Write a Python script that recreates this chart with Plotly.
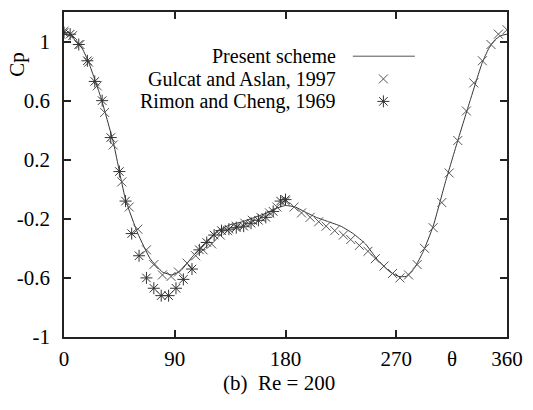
import plotly.graph_objects as go

# Present scheme (line)
scheme_theta = [0, 5, 10, 15, 20, 30, 40, 50, 60, 70, 80, 88, 95, 105, 115, 125, 135, 145, 155, 165, 172, 180,
                188, 195, 205, 215, 225, 235, 245, 255, 265, 272, 278, 285, 292, 300, 310, 320, 330, 340, 345, 350, 355, 360]
scheme_cp = [1.05, 1.04, 1.00, 0.95, 0.86, 0.62, 0.32, -0.07, -0.30, -0.47, -0.56, -0.58, -0.55, -0.45, -0.36, -0.28, -0.24, -0.22, -0.19, -0.16, -0.13, -0.11,
             -0.12, -0.15, -0.19, -0.22, -0.25, -0.30, -0.37, -0.48, -0.56, -0.59, -0.59, -0.53, -0.42, -0.25, 0.05, 0.33, 0.60, 0.86, 0.95, 1.01, 1.04, 1.05]

# Gulcat and Aslan, 1997 (crosses)
gulcat_theta = [0, 7, 13, 20, 27, 33, 40, 47, 53, 60, 67, 73, 80, 87, 93, 100, 107, 113, 120, 127, 133, 140, 147, 153, 160, 167, 173, 180,
                187, 193, 200, 207, 213, 220, 227, 233, 240, 247, 253, 260, 267, 273, 280, 287, 293, 300, 307, 313, 320, 327, 333, 340, 347, 353, 360]
gulcat_cp = [1.07, 1.04, 0.98, 0.86, 0.70, 0.52, 0.30, 0.05, -0.12, -0.27, -0.41, -0.51, -0.58, -0.59, -0.56, -0.50, -0.45, -0.41, -0.37, -0.31, -0.28, -0.25, -0.23, -0.21, -0.19, -0.16, -0.12, -0.08,
             -0.12, -0.16, -0.19, -0.22, -0.25, -0.28, -0.31, -0.34, -0.38, -0.42, -0.47, -0.52, -0.57, -0.60, -0.58, -0.51, -0.40, -0.26, -0.09, 0.11, 0.33, 0.53, 0.72, 0.87, 0.98, 1.05, 1.08]

# Rimon and Cheng, 1969 (asterisks)
rimon_theta = [0, 5, 12, 19, 25, 31, 38, 45, 50, 55, 61, 67, 73, 79, 85, 91, 97, 104, 110, 116, 122, 128, 134, 140, 146, 152, 158, 164, 170, 176, 180]
rimon_cp = [1.06, 1.05, 0.98, 0.87, 0.73, 0.60, 0.35, 0.12, -0.08, -0.30, -0.45, -0.60, -0.67, -0.72, -0.72, -0.67, -0.61, -0.54, -0.41, -0.36, -0.31, -0.28, -0.27, -0.26, -0.25, -0.23, -0.21, -0.19, -0.15, -0.08, -0.07]

x_ticks = [0, 90, 180, 270, 360]
y_ticks = [-1, -0.6, -0.2, 0.2, 0.6, 1]
legend_labels = ["Present scheme", "Gulcat and Aslan, 1997", "Rimon and Cheng, 1969"]

FONT = "Liberation Serif"
CROSS = dict(symbol="x-thin-open", size=9, color="#555555", line=dict(color="#555555", width=1))
STAR = dict(symbol="asterisk-open", size=10, color="#333333", line=dict(color="#333333", width=1))

fig = go.Figure()
fig.add_trace(go.Scatter(x=scheme_theta, y=scheme_cp, mode="lines",
                         line=dict(color="#333333", width=1, shape="spline", smoothing=0.4),
                         showlegend=False))
fig.add_trace(go.Scatter(x=gulcat_theta, y=gulcat_cp, mode="markers", marker=CROSS, showlegend=False))
fig.add_trace(go.Scatter(x=rimon_theta, y=rimon_cp, mode="markers", marker=STAR, showlegend=False))

# legend keys on an overlay axis (paper-like 0..1)
leg_y = [0.864, 0.794, 0.725]
fig.add_trace(go.Scatter(x=[0.652, 0.792], y=[leg_y[0], leg_y[0]], mode="lines",
                         line=dict(color="#555555", width=1), xaxis="x2", yaxis="y2", showlegend=False))
fig.add_trace(go.Scatter(x=[0.721], y=[leg_y[1]], mode="markers", marker=CROSS,
                         xaxis="x2", yaxis="y2", showlegend=False))
fig.add_trace(go.Scatter(x=[0.721], y=[leg_y[2]], mode="markers", marker=STAR,
                         xaxis="x2", yaxis="y2", showlegend=False))

annotations = []
for lbl, yy in zip(legend_labels, leg_y):
    annotations.append(dict(text=lbl, x=0.619, y=yy, xref="paper", yref="paper",
                            xanchor="right", yanchor="middle", showarrow=False,
                            font=dict(family=FONT, size=20, color="black")))
annotations.append(dict(text="Cp", x=-0.106, y=0.838, xref="paper", yref="paper",
                        textangle=-90, showarrow=False, xanchor="center", yanchor="middle",
                        font=dict(family=FONT, size=21, color="black")))
annotations.append(dict(text="θ", x=315, y=-0.068, xref="x", yref="paper",
                        showarrow=False, xanchor="center", yanchor="middle",
                        font=dict(family=FONT, size=21, color="black")))
annotations.append(dict(text="(b)  Re = 200", x=0.486, y=-0.143, xref="paper", yref="paper",
                        showarrow=False, xanchor="center", yanchor="middle",
                        font=dict(family=FONT, size=21, color="black")))

axis_common = dict(showgrid=False, zeroline=False, showline=True, linecolor="#222222", linewidth=1.5,
                   mirror="ticks", ticks="inside", ticklen=7, tickwidth=1.5, tickcolor="#222222",
                   tickfont=dict(family=FONT, size=21, color="black"))

fig.update_layout(
    width=533, height=410,
    margin=dict(l=64, r=18, t=10, b=73),
    paper_bgcolor="white", plot_bgcolor="white",
    xaxis=dict(range=[0, 360], tickvals=x_ticks, ticktext=[str(v) for v in x_ticks],
               ticklabelstandoff=2, **axis_common),
    yaxis=dict(range=[-1, 1.2], tickvals=y_ticks, ticktext=[f"{v:g}" for v in y_ticks],
               ticklabelstandoff=8, **axis_common),
    xaxis2=dict(range=[0, 1], overlaying="x", visible=False),
    yaxis2=dict(range=[0, 1], overlaying="y", visible=False),
    annotations=annotations,
    showlegend=False,
)

fig.write_html("out.html")
